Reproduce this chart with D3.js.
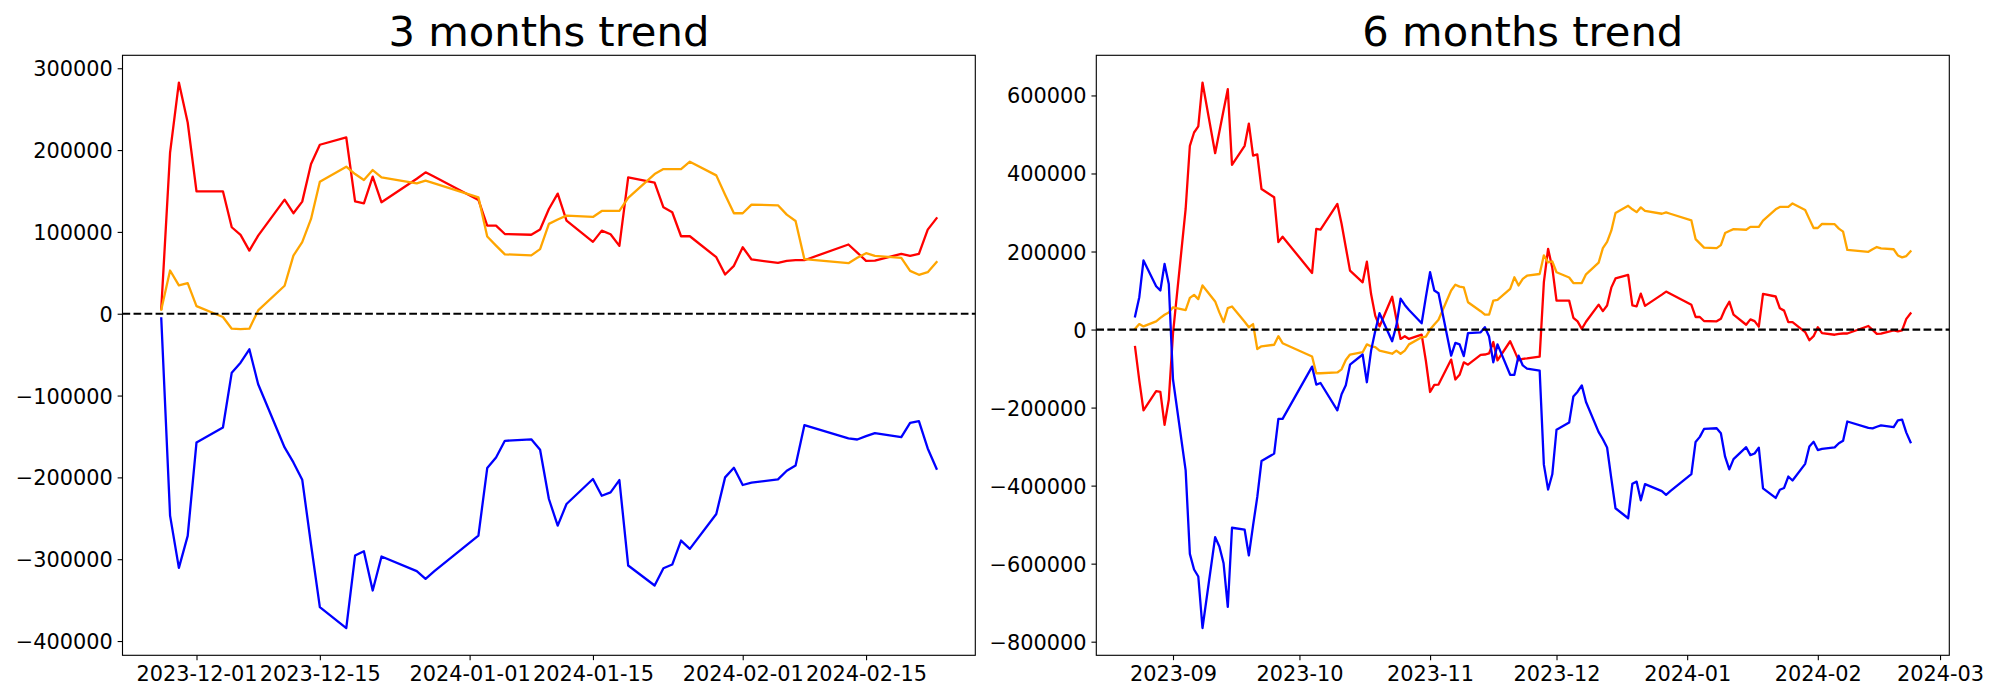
<!DOCTYPE html>
<html><head><meta charset="utf-8">
<script src="https://cdn.jsdelivr.net/npm/d3@7"></script>
<style>html,body{margin:0;padding:0;background:#fff;} svg{display:block;}</style>
</head><body><svg id="chart" width="2000" height="700"></svg>
<script>
// ---------- 3 months data ----------
const datesShort = ["2023-11-27","2023-11-28","2023-11-29","2023-11-30","2023-12-01","2023-12-04","2023-12-05","2023-12-06","2023-12-07","2023-12-08","2023-12-11","2023-12-12","2023-12-13","2023-12-14","2023-12-15","2023-12-18","2023-12-19","2023-12-20","2023-12-21","2023-12-22","2023-12-26","2023-12-27","2023-12-28","2024-01-02","2024-01-03","2024-01-04","2024-01-05","2024-01-08","2024-01-09","2024-01-10","2024-01-11","2024-01-12","2024-01-15","2024-01-16","2024-01-17","2024-01-18","2024-01-19","2024-01-22","2024-01-23","2024-01-24","2024-01-25","2024-01-26","2024-01-29","2024-01-30","2024-01-31","2024-02-01","2024-02-02","2024-02-05","2024-02-06","2024-02-07","2024-02-08","2024-02-13","2024-02-14","2024-02-15","2024-02-16","2024-02-19","2024-02-20","2024-02-21","2024-02-22","2024-02-23"];
const redShort = [6000,197000,282500,233700,149600,149600,105700,96300,77200,95500,139400,122800,137000,182900,206500,215400,137400,135000,167500,136200,165000,172800,167300,139000,107700,107700,97400,96500,103000,128000,146800,113800,87800,101600,97200,82900,166700,160200,130000,124000,94700,94700,69100,48000,58500,81300,66300,62200,64600,65400,65400,84600,74800,64600,65000,73200,70700,73200,102800,116700];
const orangeShort = [4900,52800,34600,37400,9300,-4000,-18300,-18700,-18300,4100,34200,71100,87400,115900,161400,179700,170700,163400,175600,166700,159300,162600,159300,142300,94300,83300,72600,71300,78900,109800,115200,119900,118300,125600,125600,125600,141500,170700,176800,176800,176800,185800,169100,145500,122800,122800,133300,132500,121100,113400,66700,61800,68300,74000,70700,68300,52400,47600,50800,63000];
const blueShort = [-5700,-246700,-310600,-271500,-157300,-139000,-72000,-59800,-43500,-86200,-163400,-181700,-202800,-282000,-358500,-384100,-295500,-290200,-338200,-296700,-314600,-324000,-314600,-271100,-188600,-175600,-155300,-153500,-166300,-226400,-259000,-232500,-202000,-222400,-218300,-203300,-307700,-332100,-311000,-306500,-277200,-287400,-244700,-200000,-188200,-209300,-206500,-202400,-191900,-185400,-136200,-152400,-153700,-149600,-145900,-150800,-133300,-131300,-164600,-189400];

// ---------- 6 months data ----------
const datesEarly = ["2023-08-23","2023-08-24","2023-08-25","2023-08-28","2023-08-29","2023-08-30","2023-08-31","2023-09-01","2023-09-04","2023-09-05","2023-09-06","2023-09-07","2023-09-08","2023-09-11","2023-09-12","2023-09-13","2023-09-14","2023-09-15","2023-09-18","2023-09-19","2023-09-20","2023-09-21","2023-09-22","2023-09-25","2023-09-26","2023-09-27","2023-10-04","2023-10-05","2023-10-06","2023-10-10","2023-10-11","2023-10-12","2023-10-13","2023-10-16","2023-10-17","2023-10-18","2023-10-19","2023-10-20","2023-10-23","2023-10-24","2023-10-25","2023-10-26","2023-10-27","2023-10-30","2023-10-31","2023-11-01","2023-11-02","2023-11-03","2023-11-06","2023-11-07","2023-11-08","2023-11-09","2023-11-10","2023-11-13","2023-11-14","2023-11-15","2023-11-16","2023-11-17","2023-11-20","2023-11-21","2023-11-22","2023-11-23","2023-11-24"];
const datesLong = datesEarly.concat(datesShort);
const redLong = [-45000,-130000,-207000,-158000,-160000,-244000,-180000,-10000,309000,471000,505000,521000,633000,452000,507000,562000,616000,422000,471000,528000,446000,449000,360000,339000,224000,238000,145000,258000,256000,322000,271000,211000,151000,121000,174000,91000,35000,8000,84000,27000,-24000,-17000,-24000,-13000,-80000,-160000,-142000,-141000,-77000,-128000,-116000,-84000,-90000,-65000,-64000,-61000,-32000,-79000,-30000,-54000,-79000,-75000,-74000,
  -69500,121500,207000,158200,74100,74100,30200,20800,1700,20000,63900,47300,61500,107400,131000,139900,61900,59500,92000,60700,89500,97300,91800,63500,32200,32200,21900,21000,27500,52500,71300,38300,12300,26100,21700,7400,91200,84700,54500,48500,19200,19200,-6400,-27500,-17000,5800,-9200,-13300,-10900,-10100,-10100,9100,-700,-10900,-10500,-2300,-4800,-2300,27300,41200];
const orangeLong = [2000,14000,8000,21000,30000,38000,44000,57000,50000,81000,89000,78000,113000,72000,44000,19000,55000,59000,20000,6000,14000,-50000,-43000,-39000,-17000,-35000,-69000,-112000,-112000,-110000,-102000,-78000,-64000,-58000,-38000,-43000,-45000,-54000,-62000,-54000,-62000,-54000,-38000,-20000,-18000,0,13000,25000,100000,115000,110000,108000,70000,47000,38000,38000,74000,76000,104000,134000,113000,130000,138000,
  142400,190300,172100,174900,146800,133500,119200,118800,119200,141600,171700,208600,224900,253400,298900,317200,308200,300900,313100,304200,296800,300100,296800,279800,231800,220800,210100,208800,216400,247300,252700,257400,255800,263100,263100,263100,279000,308200,314300,314300,314300,323300,306600,283000,260300,260300,270800,270000,258600,250900,204200,199300,205800,211500,208200,205800,189900,185100,188300,200500];
const blueLong = [34000,83000,177000,111000,100000,168000,117000,-128000,-361000,-575000,-615000,-633000,-765000,-532000,-556000,-599000,-711000,-508000,-513000,-579000,-502000,-429000,-337000,-318000,-229000,-229000,-95000,-141000,-137000,-207000,-166000,-143000,-90000,-64000,-135000,-54000,-3000,42000,-30000,10000,79000,63000,50000,16000,83000,147000,100000,93000,-67000,-34000,-38000,-68000,-9000,-7000,6000,-18000,-84000,-38000,-116000,-116000,-67000,-92000,-100000,
  -105200,-346200,-410100,-371000,-256800,-238500,-171500,-159300,-143000,-185700,-262900,-281200,-302300,-381500,-458000,-483600,-395000,-389700,-437700,-396200,-414100,-423500,-414100,-370600,-288100,-275100,-254800,-253000,-265800,-325900,-358500,-332000,-301500,-321900,-317800,-302800,-407200,-431600,-410500,-406000,-376700,-386900,-344200,-299500,-287700,-308800,-306000,-301900,-291400,-284900,-235700,-251900,-253200,-249100,-245400,-250300,-232800,-230800,-264100,-288900];

// ---------- ticks / titles ----------
const shortXTicks = ["2023-12-01","2023-12-15","2024-01-01","2024-01-15","2024-02-01","2024-02-15"];
const longXTicks = ["2023-09-01","2023-10-01","2023-11-01","2023-12-01","2024-01-01","2024-02-01","2024-03-01"];
const shortYTicks = [-400000,-300000,-200000,-100000,0,100000,200000,300000];
const longYTicks = [-800000,-600000,-400000,-200000,0,200000,400000,600000];
const titles = ["3 months trend","6 months trend"];
const colors = ["red","orange","blue"];

const svg = d3.select("#chart");
const FONT = "DejaVu Sans, sans-serif";
const parse = d3.utcParse("%Y-%m-%d");

function panel(cfg) {
  const {x0, x1, y0, y1, dates, series, xTicks, xFmt, yTicks, title} = cfg;
  const ds = dates.map(parse);
  const ext = d3.extent(ds);
  const span = ext[1] - ext[0];
  const x = d3.scaleUtc()
    .domain([new Date(+ext[0] - 0.05 * span), new Date(+ext[1] + 0.05 * span)])
    .range([x0, x1]);
  const all = series.flatMap(s => s.values);
  const [mn, mx] = d3.extent(all);
  const r = mx - mn;
  const y = d3.scaleLinear().domain([mn - 0.05 * r, mx + 0.05 * r]).range([y1, y0]);

  const g = svg.append("g");
  const line = d3.line().x((d, i) => x(ds[i])).y(d => y(d));
  series.forEach(s => {
    g.append("path").attr("d", line(s.values))
      .attr("fill", "none").attr("stroke", s.color)
      .attr("stroke-width", 2.3)
      .attr("stroke-linejoin", "round").attr("stroke-linecap", "square");
  });
  // zero line
  g.append("line").attr("x1", x0).attr("x2", x1).attr("y1", y(0)).attr("y2", y(0))
    .attr("stroke", "black").attr("stroke-width", 2.2).attr("stroke-dasharray", "7.7,3.33");

  // axes
  const xa = g.append("g").attr("transform", `translate(0,${y1})`)
    .call(d3.axisBottom(x).tickValues(xTicks.map(parse)).tickFormat(xFmt).tickSize(4.86).tickPadding(4.86));
  const ya = g.append("g").attr("transform", `translate(${x0},0)`)
    .call(d3.axisLeft(y).tickValues(yTicks).tickFormat(d3.format("d")).tickSize(4.86).tickPadding(4.86));
  [xa, ya].forEach(a => {
    a.select(".domain").remove();
    a.attr("font-family", FONT).attr("font-size", 20.83);
    a.selectAll(".tick line").attr("stroke", "black").attr("stroke-width", 1.11);
    a.selectAll(".tick text").attr("fill", "black");
  });
  xa.selectAll(".tick text").attr("dy", "0.77em");
  ya.selectAll(".tick text").attr("dy", "0.36em");

  // frame
  g.append("rect").attr("x", x0).attr("y", y0).attr("width", x1 - x0).attr("height", y1 - y0)
    .attr("fill", "none").attr("stroke", "black").attr("stroke-width", 1.11);

  g.append("text").attr("x", (x0 + x1) / 2).attr("y", 46)
    .attr("text-anchor", "middle").attr("font-family", FONT).attr("font-size", 41.67)
    .attr("fill", "black").text(title);
}

panel({x0: 122.5, x1: 975.3, y0: 55.3, y1: 655.3, dates: datesShort,
  series: [{values: redShort, color: colors[0]}, {values: orangeShort, color: colors[1]}, {values: blueShort, color: colors[2]}],
  xTicks: shortXTicks, xFmt: d3.utcFormat("%Y-%m-%d"), yTicks: shortYTicks, title: titles[0]});
panel({x0: 1096.3, x1: 1949.3, y0: 55.3, y1: 655.3, dates: datesLong,
  series: [{values: redLong, color: colors[0]}, {values: orangeLong, color: colors[1]}, {values: blueLong, color: colors[2]}],
  xTicks: longXTicks, xFmt: d3.utcFormat("%Y-%m"), yTicks: longYTicks, title: titles[1]});
</script>
</body></html>
